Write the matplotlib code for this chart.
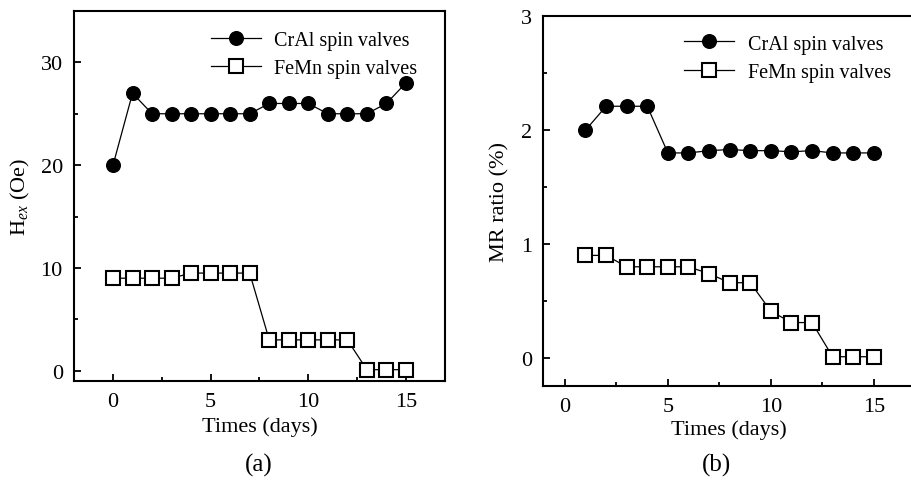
import matplotlib
matplotlib.use("Agg")
import matplotlib.pyplot as plt
from matplotlib.ticker import MultipleLocator

plt.rcParams['font.family'] = ['Liberation Serif', 'DejaVu Serif']
plt.rcParams['mathtext.fontset'] = 'custom'
plt.rcParams['mathtext.rm'] = 'Liberation Serif'
plt.rcParams['mathtext.it'] = 'Liberation Serif:italic'

# Panel (a): exchange field vs time
days_a = [0, 1, 2, 3, 4, 5, 6, 7, 8, 9, 10, 11, 12, 13, 14, 15]
hex_cral = [20, 27, 25, 25, 25, 25, 25, 25, 26, 26, 26, 25, 25, 25, 26, 28]
hex_femn = [9, 9, 9, 9, 9.5, 9.5, 9.5, 9.5, 3, 3, 3, 3, 3, 0.1, 0.1, 0.1]

# Panel (b): MR ratio vs time
days_b = [1, 2, 3, 4, 5, 6, 7, 8, 9, 10, 11, 12, 13, 14, 15]
mr_cral = [2.0, 2.21, 2.21, 2.21, 1.80, 1.80, 1.82, 1.83, 1.82, 1.82, 1.81, 1.82, 1.80, 1.80, 1.80]
mr_femn = [0.90, 0.90, 0.80, 0.80, 0.80, 0.80, 0.74, 0.66, 0.66, 0.41, 0.31, 0.31, 0.01, 0.01, 0.01]

labels = ['CrAl spin valves', 'FeMn spin valves']

fig = plt.figure(figsize=(9.12, 4.85), dpi=100)
axA = fig.add_axes([0.0811, 0.2124, 0.4068, 0.7629])
axB = fig.add_axes([0.5957, 0.2014, 0.4076, 0.7629])

def style(ax):
    for s in ax.spines.values():
        s.set_linewidth(1.5)
    ax.tick_params(which='both', direction='in', top=False, right=False,
                   labelsize=16, width=1.3)
    ax.tick_params(which='major', length=5, pad=8)
    ax.tick_params(which='minor', length=3)

def draw(ax, x, y1, y2):
    ax.plot(x, y1, '-', color='black', lw=0.9, marker='o', ms=9.8,
            mfc='black', mec='black', label=labels[0])
    ax.plot(x, y2, '-', color='black', lw=0.9, marker='s', ms=9.5,
            mfc='white', mec='black', mew=1.5, label=labels[1])

legend_kw = dict(frameon=False, fontsize=14.5, numpoints=1,
                 handlelength=2.5, handletextpad=0.65, labelspacing=0.45)

draw(axA, days_a, hex_cral, hex_femn)
axA.set_xlim(-2, 17)
axA.set_ylim(-1, 35)
axA.xaxis.set_major_locator(MultipleLocator(5))
axA.xaxis.set_minor_locator(MultipleLocator(2.5))
axA.yaxis.set_major_locator(MultipleLocator(10))
axA.yaxis.set_minor_locator(MultipleLocator(5))
style(axA)
axA.set_xlabel('Times (days)', fontsize=16, labelpad=4)
axA.set_ylabel(r'H$_{\mathit{ex}}$ (Oe)', fontsize=16, labelpad=6)
axA.legend(loc='upper right', bbox_to_anchor=(0.975, 0.995), **legend_kw)

draw(axB, days_b, mr_cral, mr_femn)
axB.set_xlim(-1.05, 17)
axB.set_ylim(-0.25, 3)
axB.xaxis.set_major_locator(MultipleLocator(5))
axB.xaxis.set_minor_locator(MultipleLocator(2.5))
axB.yaxis.set_major_locator(MultipleLocator(1))
axB.yaxis.set_minor_locator(MultipleLocator(0.5))
style(axB)
axB.set_xlabel('Times (days)', fontsize=16, labelpad=2)
axB.set_ylabel('MR ratio (%)', fontsize=16, labelpad=8)
axB.legend(loc='upper left', bbox_to_anchor=(0.33, 1.0), **legend_kw)

fig.text(259 / 912, 1 - 465 / 485, '(a)', fontsize=18, ha='center', va='center')
fig.text(717 / 912, 1 - 465 / 485, '(b)', fontsize=18, ha='center', va='center')

fig.savefig('out.png', dpi=100)
